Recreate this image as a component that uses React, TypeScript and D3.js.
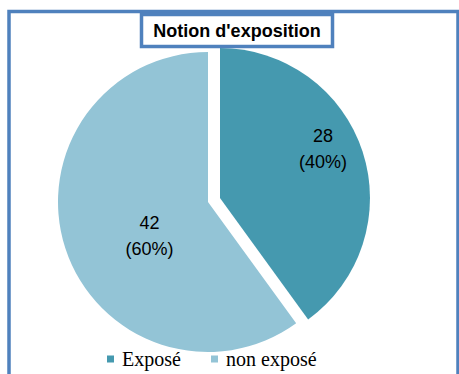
import React from "react";
import * as d3 from "d3";

const categories = ["Exposé", "non exposé"];
const values = [28, 42];
const percentLabels = ["(40%)", "(60%)"];
const title = "Notion d'exposition";

const colors = ["#4599AF", "#93C4D6"];
const W = 459;
const H = 374;
const cx = 208;
const cy = 202;
const R = 150;
const explode = [12.6, 0];
// label placement: fraction of radius and angle shift (radians) from slice mid-angle
const labelLayout = [
  { rf: 0.76, da: -7.4 * Math.PI / 180 },
  { rf: 0.45, da: -12 * Math.PI / 180 },
];

export default function App() {
  const pie = d3.pie<number>().sort(null).value((d) => d);
  const arcs = pie(values);
  const arcGen = d3.arc<d3.PieArcDatum<number>>().innerRadius(0).outerRadius(R);

  return (
    <svg
      width={W}
      height={H}
      style={{ position: "absolute", left: 0, top: 0, background: "#fff" }}
    >
      <rect x={9} y={11.5} width={449} height={400} fill="#fff" stroke="#4F81BD" strokeWidth={3.5} />
      {arcs.map((a, i) => {
        const mid = (a.startAngle + a.endAngle) / 2;
        const ox = cx + explode[i] * Math.sin(mid);
        const oy = cy - explode[i] * Math.cos(mid);
        const la = mid + labelLayout[i].da;
        const lr = R * labelLayout[i].rf;
        const lx = ox + lr * Math.sin(la);
        const ly = oy - lr * Math.cos(la);
        return (
          <g key={i} transform={`translate(${ox},${oy})`}>
            <path d={arcGen(a) || ""} fill={colors[i]} />
            <text
              x={lx - ox}
              y={ly - oy - 13}
              textAnchor="middle"
              dominantBaseline="central"
              fontFamily="Liberation Sans, Arial, sans-serif"
              fontSize={18}
              fill="#000"
            >
              {values[i]}
            </text>
            <text
              x={lx - ox}
              y={ly - oy + 13}
              textAnchor="middle"
              dominantBaseline="central"
              fontFamily="Liberation Sans, Arial, sans-serif"
              fontSize={18}
              fill="#000"
            >
              {percentLabels[i]}
            </text>
          </g>
        );
      })}
      <rect x={141.5} y={14.5} width={191} height={32} fill="#fff" stroke="#4F81BD" strokeWidth={3.5} />
      <text
        x={237}
        y={37}
        textAnchor="middle"
        fontFamily="Liberation Sans, Arial, sans-serif"
        fontWeight="bold"
        fontSize={18}
        fill="#000"
      >
        {title}
      </text>
      {categories.map((c, i) => {
        const lx = [107, 211][i];
        return (
          <g key={c}>
            <rect x={lx} y={355.5} width={7} height={7} fill={colors[i]} />
            <text
              x={lx + 15}
              y={366}
              fontFamily="Liberation Serif, Times New Roman, serif"
              fontSize={20}
              fill="#000"
            >
              {c}
            </text>
          </g>
        );
      })}
    </svg>
  );
}
